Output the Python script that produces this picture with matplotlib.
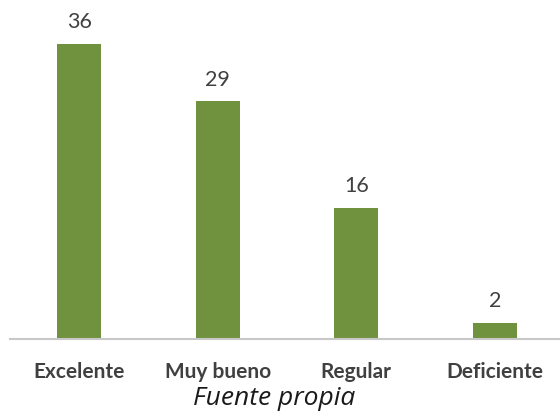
import matplotlib
matplotlib.use('Agg')
import matplotlib.pyplot as plt

# Datos de la encuesta
categorias = ['Excelente', 'Muy bueno', 'Regular', 'Deficiente']
valores = [36, 29, 16, 2]

fig = plt.figure(figsize=(5.6, 4.14), dpi=100)
ax = fig.add_axes([10 / 560, 74 / 414, 554 / 560, 328 / 414])

x = range(len(categorias))
barras = ax.bar(x, valores, width=0.32, color='#70923f')

for b, v in zip(barras, valores):
    ax.text(b.get_x() + b.get_width() / 2, v + 1.5, str(v),
            ha='center', va='bottom', fontsize=15.5, color='#404040',
            family='Lato')

ax.set_xlim(-0.5, 3.5)
ax.set_ylim(0, 40)
ax.set_yticks([])
ax.set_xticks(list(x))
ax.set_xticklabels(categorias, fontsize=15, fontweight='bold',
                   color='#404040', family='Lato')
ax.tick_params(axis='x', length=0, pad=16)

for lado in ['top', 'right', 'left']:
    ax.spines[lado].set_visible(False)
ax.spines['bottom'].set_color('#c8c8c8')
ax.spines['bottom'].set_linewidth(1.5)

fig.text(274 / 560, 1 - 399 / 414, 'Fuente propia', ha='center', va='center',
         fontsize=19, style='italic', color='#1a1a1a', family='Open Sans')

fig.savefig('out.png', dpi=100)
